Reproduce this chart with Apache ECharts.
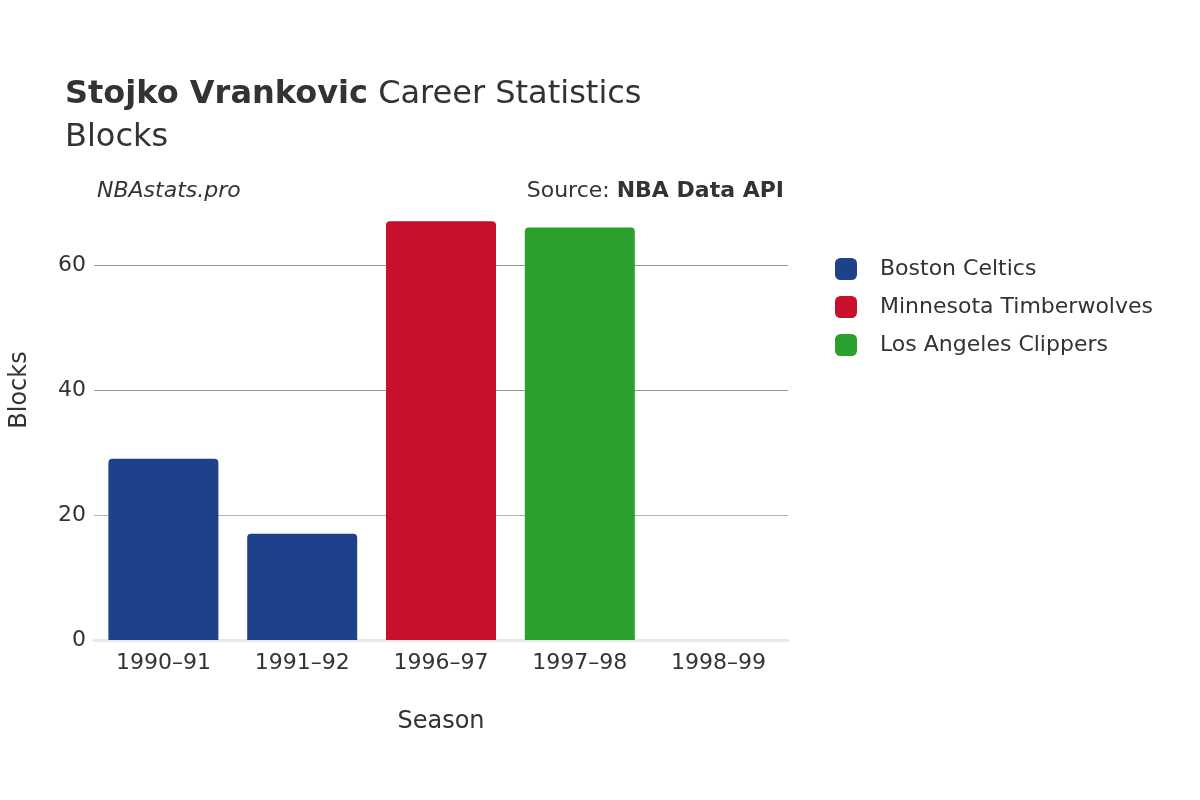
<!DOCTYPE html>
<html><head><meta charset="utf-8">
<script src="https://cdn.jsdelivr.net/npm/echarts@6/dist/echarts.min.js"></script>
<style>body{margin:0}#c{width:1200px;height:800px}</style></head>
<body><div id="c"></div>
<script>
const seasons = ['1990–91', '1991–92', '1996–97', '1997–98', '1998–99'];
const teams = ['Boston Celtics', 'Minnesota Timberwolves', 'Los Angeles Clippers'];
const teamColors = ['#1d428a', '#c8102e', '#2ca02c'];
const blocks = [
  [29, 17, null, null, 0],
  [null, null, 67, null, null],
  [null, null, null, 66, null]
];

const chart = echarts.init(document.getElementById('c'));
const font = 'DejaVu Sans, sans-serif';
const series = teams.map((t, i) => ({
  name: t, type: 'bar', stack: 'all', barWidth: 110,
  itemStyle: { color: teamColors[i], borderRadius: [4, 4, 0, 0] },
  data: blocks[i]
}));
chart.setOption({
  textStyle: { fontFamily: font },
  title: {
    text: '{b|Stojko Vrankovic} Career Statistics\nBlocks',
    left: 60, top: 68,
    textStyle: { fontSize: 32, color: '#333', fontWeight: 'normal', lineHeight: 43, fontFamily: font,
      rich: { b: { fontSize: 32, fontWeight: 'bold', color: '#333', fontFamily: font } } }
  },
  graphic: [
    { type: 'text', left: 97, top: 180, style: { text: 'NBAstats.pro', fontSize: 22, fontStyle: 'italic', fill: '#333', fontFamily: font } },
    { type: 'text', right: 416, top: 180, style: { text: '{a|Source: }{b|NBA Data API}', fontFamily: font,
      rich: { a: { fontSize: 22, fill: '#333', fontFamily: font }, b: { fontSize: 22, fontWeight: 'bold', fill: '#333', fontFamily: font } } } }
  ],
  legend: {
    orient: 'vertical', left: 830, top: 253, itemWidth: 22, itemHeight: 22, itemGap: 16,
    icon: 'roundRect', textStyle: { fontSize: 22, color: '#333', padding: [0, 0, 0, 18] },
    data: teams
  },
  grid: { left: 92, right: 412, top: 140, bottom: 160 },
  xAxis: {
    type: 'category', data: seasons,
    name: 'Season', nameLocation: 'middle', nameGap: 70, nameTextStyle: { fontSize: 24, color: '#333' },
    axisLine: { lineStyle: { color: '#e8e8e8', width: 3 } },
    axisTick: { show: false },
    axisLabel: { fontSize: 22, color: '#333', margin: 12 }
  },
  yAxis: {
    type: 'value', min: 0, max: 80, interval: 20,
    name: 'Blocks', nameLocation: 'middle', nameGap: 62, nameTextStyle: { fontSize: 24, color: '#333' },
    axisLabel: { fontSize: 22, color: '#333', formatter: v => v === 80 ? '' : v },
    splitLine: { lineStyle: { color: ['#e8e8e8', '#b0b0b0', '#999', '#999', 'rgba(0,0,0,0)'] } }
  },
  series
});
</script></body></html>
